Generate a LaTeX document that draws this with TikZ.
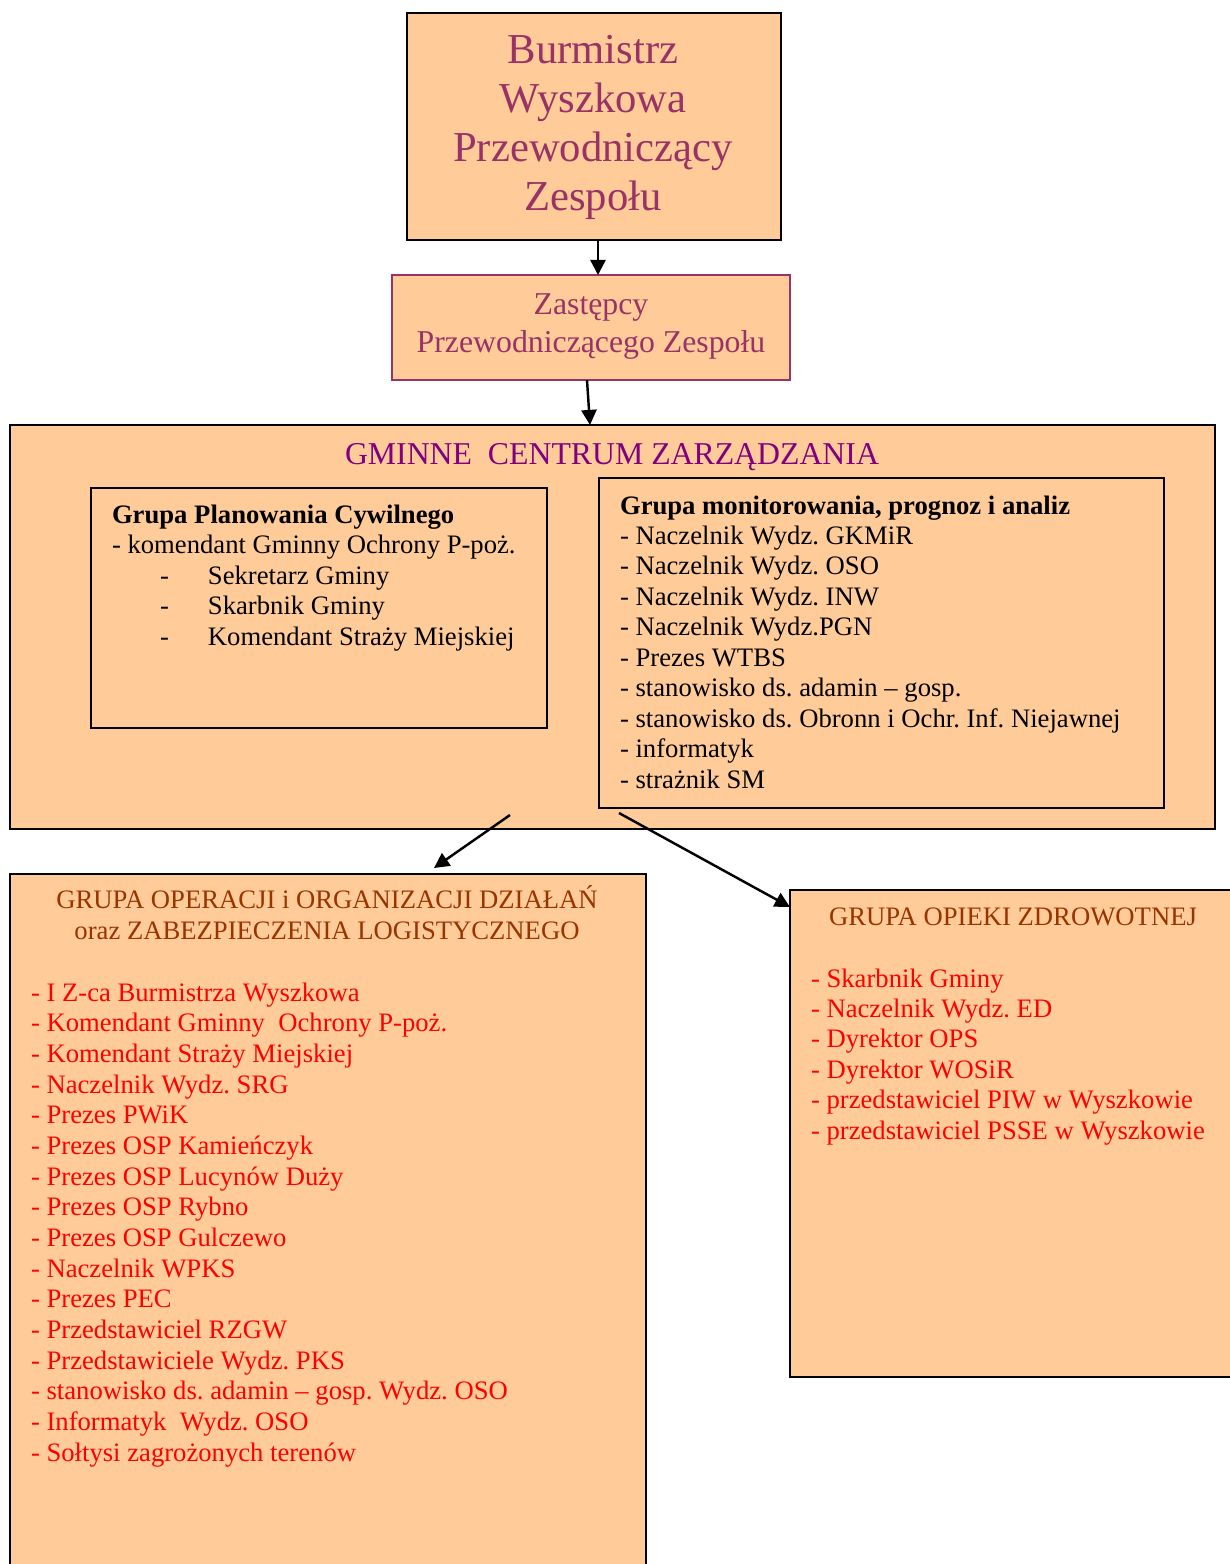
\documentclass[tikz,border=0pt]{standalone}
\usepackage{fontspec}
\setmainfont{Liberation Serif}
\frenchspacing
\usetikzlibrary{arrows.meta,fit}
\definecolor{boxtan}{HTML}{FFCC99}
\definecolor{plumc}{HTML}{993366}
\definecolor{gczpurple}{HTML}{800080}
\definecolor{brownc}{HTML}{993300}
\definecolor{itemred}{HTML}{FF0000}
\begin{document}
\begin{tikzpicture}[x=0.45pt,y=-0.45pt,
  box/.style={draw=black, line width=1pt, fill=boxtan, inner sep=0pt, outer sep=0pt},
  txt/.style={inner sep=0pt, outer sep=0pt, font=\fontsize{12}{13.8}\selectfont\frenchspacing},
  blackitem/.style={txt, anchor=base west, text=black},
  reditem/.style={txt, anchor=base west, text=itemred},
  browntitle/.style={txt, anchor=base, text=brownc},
  bigtitle/.style={inner sep=0pt, anchor=base, text=plumc, font=\fontsize{19.2}{22}\selectfont},
  midtitle/.style={inner sep=0pt, anchor=base, text=plumc, font=\fontsize{14.3}{17}\selectfont},
  arr/.style={-{Triangle[length=6.8pt,width=6.8pt]}, line width=1.1pt, draw=black}]
\useasboundingbox (0,0) rectangle (1230,1564);
\fill[white] (0,0) rectangle (1230,1564);
\clip (0,0) rectangle (1230,1564);

% boxes
\node[box, fit={(407,13) (781,240)}] (burm) {};
\node[box, draw=plumc, fit={(392,275) (790,380)}] (zast) {};
\node[box, fit={(10,425) (1215,829)}] (gcz) {};
\node[box, fit={(91,488) (547,728)}] (gpc) {};
\node[box, fit={(599,478) (1164,808)}] (gmon) {};
\node[box, fit={(10,874) (646,1620)}] (gop) {};
\node[box, fit={(790,890) (1270,1377)}] (gzd) {};

% Burmistrz
\foreach \t [count=\i from 0] in {Burmistrz,Wyszkowa,Przewodniczący,Zespołu}
  \node[bigtitle] (burmt\i) at (593,{63+49.3*\i}) {\t};

% Zastepcy
\node[midtitle] (zastt0) at (591,314) {Zastępcy};
\node[midtitle] (zastt1) at (591,352) {Przewodniczącego Zespołu};

% GCZ title
\node[inner sep=0pt, anchor=base, text=gczpurple, font=\fontsize{14.3}{17}\selectfont] (gczt) at (612,464) {GMINNE\ \ CENTRUM ZARZĄDZANIA};

% Grupa Planowania Cywilnego
\node[blackitem, font=\fontsize{12}{13.8}\selectfont\bfseries] (gpct) at (112,523) {Grupa Planowania Cywilnego};
\node[blackitem] (gpc0) at (112,553.5) {- komendant Gminny Ochrony P-poż.};
\foreach \t [count=\i from 1] in {Sekretarz Gminy,Skarbnik Gminy,Komendant Straży Miejskiej}
  \node[blackitem] (gpc\i) at (160,{553.5+30.7*\i}) {\makebox[21.6pt][l]{-}\t};

% Grupa monitorowania
\node[blackitem, font=\fontsize{12}{13.8}\selectfont\bfseries] (gmont) at (620,514) {Grupa monitorowania, prognoz i analiz};
\foreach \t [count=\i from 0] in {Naczelnik Wydz. GKMiR,Naczelnik Wydz. OSO,Naczelnik Wydz. INW,Naczelnik Wydz.PGN,Prezes WTBS,stanowisko ds. adamin – gosp.,stanowisko ds. Obronn i Ochr. Inf. Niejawnej,informatyk,strażnik SM}
  \node[blackitem] (gmon\i) at (620,{544+30.55*\i}) {- \t};

% Grupa operacji
\node[browntitle] (gopt0) at (327,908) {GRUPA OPERACJI i ORGANIZACJI DZIAŁAŃ};
\node[browntitle] (gopt1) at (327,939) {oraz ZABEZPIECZENIA LOGISTYCZNEGO};
\foreach \t [count=\i from 0] in {I Z-ca Burmistrza Wyszkowa,Komendant Gminny\ \ Ochrony P-poż.,Komendant Straży Miejskiej,Naczelnik Wydz. SRG,Prezes PWiK,Prezes OSP Kamieńczyk,Prezes OSP Lucynów Duży,Prezes OSP Rybno,Prezes OSP Gulczewo,Naczelnik WPKS,Prezes PEC,Przedstawiciel RZGW,Przedstawiciele Wydz. PKS,stanowisko ds. adamin – gosp. Wydz. OSO,Informatyk\ \ Wydz. OSO,Sołtysi zagrożonych terenów}
  \node[reditem] (gop\i) at (31,{1001+30.67*\i}) {- \t};

% Grupa opieki zdrowotnej
\node[browntitle] (gzdt) at (1013,925) {GRUPA OPIEKI ZDROWOTNEJ};
\foreach \t [count=\i from 0] in {Skarbnik Gminy,Naczelnik Wydz. ED,Dyrektor OPS,Dyrektor WOSiR,przedstawiciel PIW w Wyszkowie,przedstawiciel PSSE w Wyszkowie}
  \node[reditem] (gzd\i) at (811,{987+30.4*\i}) {- \t};

% connectors
\coordinate (c598) at (598,0);
\coordinate (c587) at (587,0);
\coordinate (c590) at (590,0);
\coordinate (s3) at (510,815);
\coordinate (t3) at (434,868);
\coordinate (s4) at (619,813);
\coordinate (t4) at (789,907);
\draw[arr] (burm.south -| c598) -- (zast.north -| c598);
\draw[arr] (zast.south -| c587) -- (gcz.north -| c590);
\draw[arr] (s3) -- (t3);
\draw[arr] (s4) -- (gzd.west |- t4);
\end{tikzpicture}
\end{document}
